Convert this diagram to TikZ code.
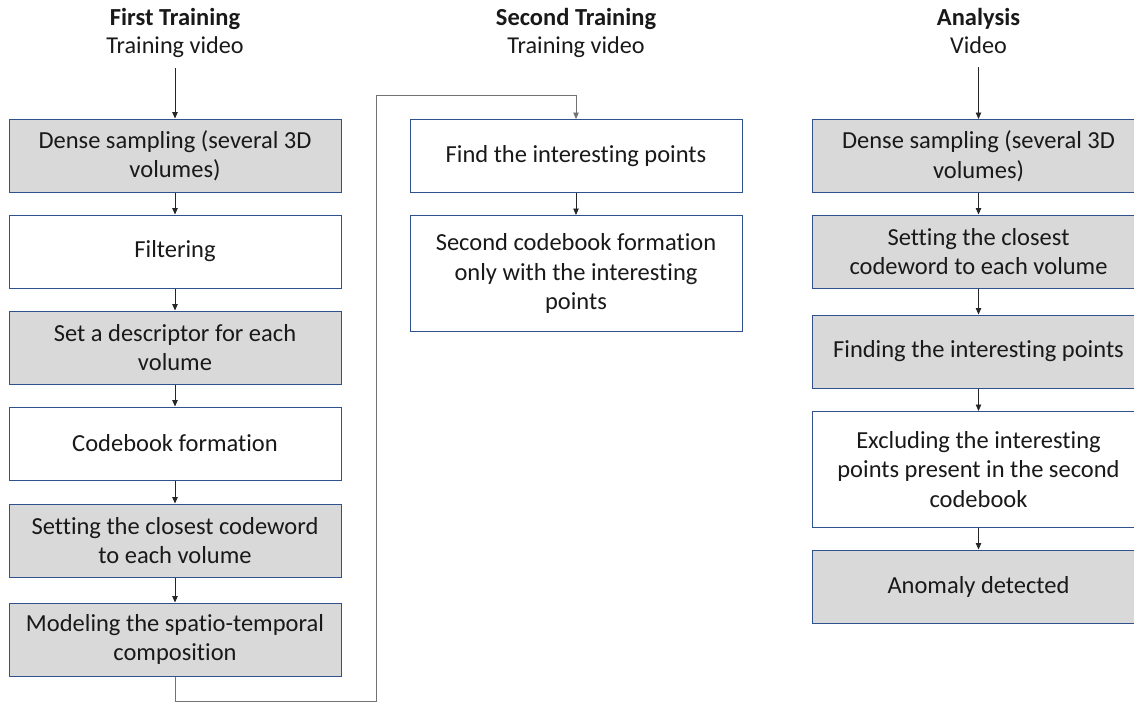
\documentclass[tikz,border=0pt]{standalone}
\usepackage{fontspec}
\setmainfont{Carlito}[Ligatures=NoCommon]
\usetikzlibrary{arrows.meta}
\definecolor{boxline}{HTML}{2F528F}
\definecolor{boxfill}{HTML}{D9D9D9}
\tikzset{
  stage/.style={draw=boxline, line width=1pt, align=center, inner sep=0pt,
    minimum width=332pt, minimum height=73pt,
    font=\fontsize{24.5}{29.5}\selectfont, text=black!90},
  shaded/.style={stage, fill=boxfill},
  plain/.style={stage, fill=white},
  tall/.style={minimum height=116pt},
  title/.style={anchor=base, font=\fontsize{24.5}{29}\selectfont\bfseries, text=black!90},
  subtitle/.style={anchor=base, font=\fontsize{24.2}{29}\selectfont, text=black!90},
  flow/.style={draw=black!85, line width=0.8pt, -{Triangle[length=6.5pt,width=5.5pt]}},
  loop/.style={draw=black!55, line width=0.9pt, -{Triangle[length=6.5pt,width=5.5pt]}}
}
\begin{document}
\begin{tikzpicture}[x=1pt, y=-1pt]
\useasboundingbox (0,0) rectangle (1134,702);
\clip (0,0) rectangle (1134,702);

% column headings
\node[title]    (h1) at (175,25) {First Training};
\node[subtitle] (s1) at (175,53) {Training video};
\node[title]    (h2) at (576,25) {Second Training};
\node[subtitle] (s2) at (576,53) {Training video};
\node[title]    (h3) at (978.5,25) {Analysis};
\node[subtitle] (s3) at (978.5,53) {Video};

% first training
\node[shaded] (L1) at (175,155.5) {Dense sampling (several 3D\\volumes)};
\node[plain]  (L2) at (175,251.5) {Filtering};
\node[shaded] (L3) at (175,347.5) {Set a descriptor for each\\volume};
\node[plain]  (L4) at (175,443.5) {Codebook formation};
\node[shaded] (L5) at (175,540.5) {Setting the closest codeword\\to each volume};
\node[shaded] (L6) at (175,639.5) {Modeling the spatio-temporal\\composition};

% second training
\node[plain]       (M1) at (576,156) {Find the interesting points};
\node[plain, tall] (M2) at (576,273.5) {Second codebook formation\\only with the interesting\\points};

% analysis
\node[shaded]       (R1) at (978.5,156) {Dense sampling (several 3D\\volumes)};
\node[shaded]       (R2) at (978.5,251.5) {Setting the closest\\codeword to each volume};
\node[shaded]       (R3) at (978.5,351.5) {Finding the interesting points};
\node[plain, tall]  (R4) at (978.5,469.5) {Excluding the interesting\\points present in the second\\codebook};
\node[shaded]       (R5) at (978.5,586.5) {Anomaly detected};

% entry arrows
\coordinate (in1) at (175,68);
\coordinate (in3) at (978.5,67);
\draw[flow] (in1) -- (L1.north);
\draw[flow] (in3) -- (R1.north);

% chains
\draw[flow] (L1.south) -- (L2.north);
\draw[flow] (L2.south) -- (L3.north);
\draw[flow] (L3.south) -- (L4.north);
\draw[flow] (L4.south) -- (L5.north);
\draw[flow] (L5.south) -- (L6.north);
\draw[flow] (M1.south) -- (M2.north);
\draw[flow] (R1.south) -- (R2.north);
\draw[flow] (R2.south) -- (R3.north);
\draw[flow] (R3.south) -- (R4.north);
\draw[flow] (R4.south) -- (R5.north);

% hand-over from the first training to the second
\coordinate (b1) at (175,701);
\coordinate (b2) at (376,701);
\coordinate (b3) at (376,95);
\coordinate (b4) at (576,95);
\draw[loop] (L6.south) -- (b1) -- (b2) -- (b3) -- (b4) -- (M1.north);
\end{tikzpicture}
\end{document}
